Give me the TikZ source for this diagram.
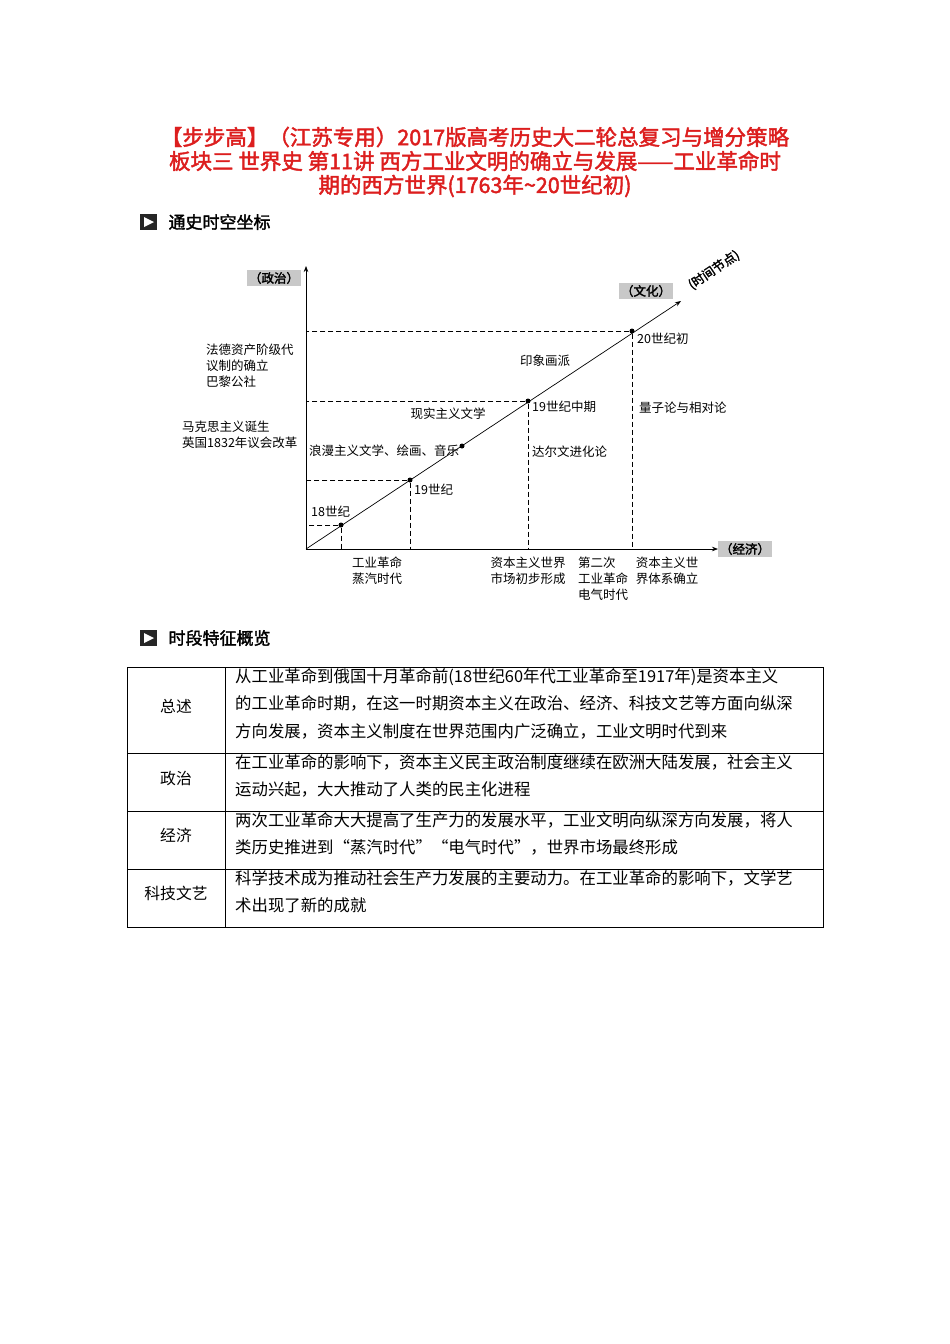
\documentclass[tikz,border=0pt]{standalone}
\usepackage{fontspec}
\setmainfont{Noto Sans CJK SC}
\newfontfamily\hb[FakeBold=2]{Noto Sans CJK SC}
\usetikzlibrary{arrows.meta}
\definecolor{tred}{RGB}{220,30,30}
\definecolor{boxg}{RGB}{200,200,200}
\begin{document}
\begin{tikzpicture}[x=1pt,y=-1pt,
  title/.style={text=tred,font=\hb\fontsize{21.5}{24}\selectfont,inner sep=0pt},
  lab/.style={font=\fontsize{12.5}{16}\selectfont,inner sep=1pt},
  tag/.style={fill=boxg,font=\hb\fontsize{12.5}{14}\selectfont,inner sep=2pt},
  dsh/.style={dash pattern=on 5pt off 3pt,line width=0.6pt},
  dot/.style={circle,fill=black,inner sep=0pt,minimum size=5pt},
  cell/.style={font=\fontsize{16.4}{27.5}\selectfont,align=left,anchor=north west,inner sep=0pt},
  head/.style={font=\hb\fontsize{17}{20}\selectfont,anchor=west}]
\useasboundingbox (0,0) rectangle (950,1344);
\node[title] (t1) at (475,137) {【步步高】（江苏专用）2017版高考历史大二轮总复习与增分策略};
\node[title] (t2) at (475,161) {板块三 世界史 第11讲 西方工业文明的确立与发展——工业革命时};
\node[title] (t3) at (475,186) {期的西方世界(1763年\textasciitilde20世纪初)};
% section heads
\foreach \yy/\txt/\nm in {222/通史时空坐标/h1,638/时段特征概览/h2}{
 \fill[black!85] (140,\yy-8) rectangle (157,\yy+8);
 \fill[white] (144,\yy-5) -- (154,\yy) -- (144,\yy+5) -- cycle;
 \node[head] (\nm) at (165,\yy) {\txt};}
% axes
\coordinate (O) at (306,549);
\coordinate (Ytop) at (306,266);
\coordinate (Xend) at (718,549);
\coordinate (Dend) at (681,301);
\draw[line width=0.7pt,-{Stealth[length=6pt]}] (O) -- (Ytop);
\draw[line width=0.7pt,-{Stealth[length=6pt]}] (O) -- (Xend);
\draw[line width=0.7pt,-{Stealth[length=6pt]}] (O) -- (Dend);
\node[dot] (d1) at (341,525) {};
\node[dot] (d2) at (410,480) {};
\node[dot] (d3) at (462,446) {};
\node[dot] (d4) at (528,401) {};
\node[dot] (d5) at (632,331) {};
\foreach \d in {d1,d2,d4,d5}{
 \draw[dsh] (\d) -- (\d -| O);
 \draw[dsh] (\d) -- (\d |- O);}
\node[tag] (pz) at (274,278) {（政治）};
\node[tag] (wh) at (646,291) {（文化）};
\node[tag] (jj) at (745,549) {（经济）};
\node[lab,rotate=34,font=\hb\fontsize{12.5}{15}\selectfont] (sj) at (714,270) {(时间节点)};
\node[lab,anchor=south west] (l1) at (310,518) {18世纪};
\node[lab,anchor=west] (l2) at (413,490) {19世纪};
\node[lab,anchor=west] (l4) at (531,407) {19世纪中期};
\node[lab,anchor=west] (l5) at (636,339) {20世纪初};
\node[lab,anchor=west] (c1) at (308,451) {浪漫主义文学、绘画、音乐};
\node[lab] (c2) at (448,414) {现实主义文学};
\node[lab] (c3) at (545,361) {印象画派};
\node[lab,anchor=west] (c4) at (531,452) {达尔文进化论};
\node[lab,anchor=west] (c5) at (638,408) {量子论与相对论};
\node[lab,align=left,anchor=north west] (p1) at (205,343) {法德资产阶级代\\议制的确立\\巴黎公社};
\node[lab,align=left,anchor=north west] (p2) at (181,420) {马克思主义诞生\\英国1832年议会改革};
\node[lab,align=left,anchor=north] (e1) at (377,556) {工业革命\\蒸汽时代};
\node[lab,align=left,anchor=north] (e2) at (528,556) {资本主义世界\\市场初步形成};
\node[lab,align=left,anchor=north] (e3) at (603,556) {第二次\\工业革命\\电气时代};
\node[lab,align=left,anchor=north] (e4) at (667,556) {资本主义世\\界体系确立};
% table
\draw[line width=0.7pt] (127,667) rectangle (823,927);
\draw[line width=0.6pt] (225,667) -- (225,927);
\foreach \yy in {753,811,869} \draw[line width=0.6pt] (127,\yy) -- (823,\yy);
\node[font=\fontsize{15.8}{18}\selectfont] (r1) at (176,706) {总述};
\node[font=\fontsize{15.8}{18}\selectfont] (r2) at (176,778) {政治};
\node[font=\fontsize{15.8}{18}\selectfont] (r3) at (176,835) {经济};
\node[font=\fontsize{15.8}{18}\selectfont] (r4) at (176,893) {科技文艺};
\node[cell] (v1) at (235,668) {从工业革命到俄国十月革命前(18世纪60年代工业革命至1917年)是资本主义\\的工业革命时期，在这一时期资本主义在政治、经济、科技文艺等方面向纵深\\方向发展，资本主义制度在世界范围内广泛确立，工业文明时代到来};
\node[cell] (v2) at (235,754) {在工业革命的影响下，资本主义民主政治制度继续在欧洲大陆发展，社会主义\\运动兴起，大大推动了人类的民主化进程};
\node[cell] (v3) at (235,812) {两次工业革命大大提高了生产力的发展水平，工业文明向纵深方向发展，将人\\类历史推进到“蒸汽时代”“电气时代”，世界市场最终形成};
\node[cell] (v4) at (235,870) {科学技术成为推动社会生产力发展的主要动力。在工业革命的影响下，文学艺\\术出现了新的成就};
\end{tikzpicture}
\end{document}
